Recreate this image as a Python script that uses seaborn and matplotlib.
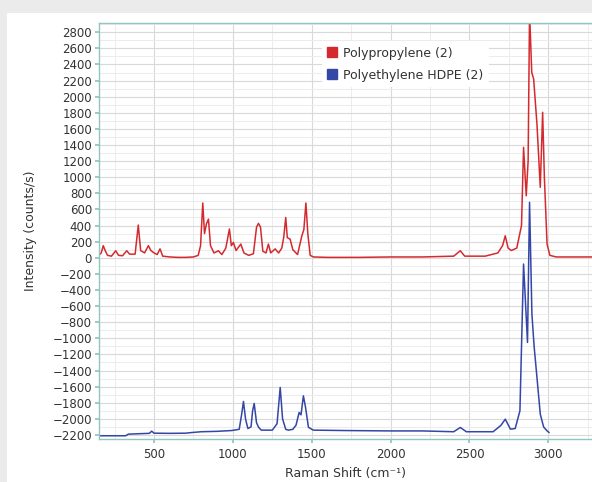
import numpy as np
import pandas as pd
import matplotlib
matplotlib.use("Agg")
import matplotlib.pyplot as plt
from matplotlib.lines import Line2D
from matplotlib.patches import Rectangle
from matplotlib.ticker import MultipleLocator
import seaborn as sns

# ---- data ----
pp_shift = [150, 165, 178, 190, 205, 230, 257, 275, 300, 327, 345, 380, 400, 415, 440, 464, 480, 500,
            520, 538, 555, 600, 650, 700, 750, 780, 795, 809, 820, 832, 845, 858, 880, 908, 930, 955,
            978, 990, 1003, 1020, 1050, 1070, 1100, 1130, 1150, 1162, 1175, 1190, 1210, 1225, 1240,
            1268, 1290, 1310, 1322, 1335, 1345, 1363, 1380, 1410, 1437, 1450, 1463, 1475, 1490, 1510,
            1600, 1800, 2000, 2200, 2400, 2442, 2470, 2600, 2680, 2710, 2727, 2745, 2765, 2800, 2830,
            2843, 2860, 2872, 2881, 2895, 2907, 2928, 2949, 2964, 2975, 2992, 3010, 3050, 3200, 3300]
pp_int = [30, 60, 150, 90, 30, 20, 87, 30, 25, 87, 45, 45, 406, 90, 60, 150, 90, 60,
          40, 110, 20, 10, 5, 5, 10, 30, 150, 680, 300, 420, 480, 150, 60, 87, 40, 120,
          357, 150, 190, 90, 170, 60, 30, 50, 380, 427, 380, 80, 60, 170, 60,
          110, 60, 120, 250, 500, 250, 230, 100, 40, 270, 350, 680, 300, 30, 10,
          5, 5, 10, 10, 20, 87, 20, 20, 60, 150, 273, 120, 90, 120, 400,
          1371, 770, 1200, 3050, 2300, 2220, 1660, 875, 1806, 1000, 170, 30, 10, 10, 10]

pe_shift = [150, 200, 320, 337, 400, 470, 485, 500, 600, 700, 739, 800, 900, 993, 1040, 1055, 1067,
            1080, 1095, 1115, 1125, 1135, 1150, 1163, 1180, 1250, 1280, 1300, 1315, 1335, 1352, 1380,
            1400, 1420, 1432, 1447, 1460, 1479, 1510, 1700, 2000, 2200, 2400, 2442, 2480, 2650, 2700,
            2727, 2760, 2790, 2820, 2843, 2868, 2881, 2896, 2910, 2928, 2949, 2970, 2992, 3005]
pe_int = [-2210, -2210, -2210, -2190, -2185, -2180, -2153, -2178, -2180, -2178, -2170, -2160, -2155,
          -2145, -2130, -1950, -1784, -2000, -2120, -2100, -1900, -1809, -2050, -2105, -2140, -2140,
          -2060, -1610, -2000, -2130, -2140, -2130, -2080, -1921, -1950, -1714, -1850, -2105, -2140,
          -2145, -2150, -2150, -2160, -2107, -2160, -2160, -2080, -2004, -2128, -2120, -1900, -78,
          -1051, 688, -700, -1100, -1486, -1941, -2100, -2149, -2170]

series_names = ["Polypropylene (2)", "Polyethylene HDPE (2)"]
series_colors = ["#d42a2e", "#3446a6"]
x_ticks = [500, 1000, 1500, 2000, 2500, 3000]
y_ticks = list(range(-2200, 2801, 200))

df = pd.concat([
    pd.DataFrame({"shift": pp_shift, "intensity": pp_int, "series": series_names[0]}),
    pd.DataFrame({"shift": pe_shift, "intensity": pe_int, "series": series_names[1]}),
], ignore_index=True)

sns.set_theme(style="white")
plt.rcParams["font.family"] = ["DejaVu Sans"]

W, H = 592, 482
fig = plt.figure(figsize=(W / 100, H / 100), dpi=100, facecolor="#ebebeb")
fig.patches.append(Rectangle((7 / W, 0), 1 - 7 / W, 1 - 13 / H, transform=fig.transFigure,
                             facecolor="white", edgecolor="none", zorder=-5))

left, right, top, bottom = 99, 592, 22.5, 438.5
ax = fig.add_axes([left / W, 1 - bottom / H, (right - left) / W, (bottom - top) / H])
ax.set_zorder(2)
ax.set_facecolor("white")

sns.lineplot(data=df, x="shift", y="intensity", hue="series", palette=series_colors,
             estimator=None, sort=False, linewidth=1.1, legend=False, ax=ax)

ax.set_xlim(151, 3277)
ax.set_ylim(-2244, 2921)
ax.set_xticks(x_ticks)
ax.set_yticks(y_ticks)
ax.xaxis.set_minor_locator(MultipleLocator(250))
ax.yaxis.set_minor_locator(MultipleLocator(100))
ax.grid(True, which="major", color="#d9d9d9", linewidth=0.8)
ax.grid(True, which="minor", color="#ececec", linewidth=0.7)
ax.set_axisbelow(True)

spine_col = "#8fc6bf"
for s in ["left", "top", "bottom"]:
    ax.spines[s].set_color(spine_col)
    ax.spines[s].set_linewidth(1.0)
ax.spines["right"].set_visible(False)
ax.tick_params(axis="both", which="major", length=3, color=spine_col, labelsize=8.5,
               labelcolor="#333333", pad=2, direction="out")
ax.tick_params(axis="x", which="major", pad=4)
ax.tick_params(axis="both", which="minor", length=2, color=spine_col, direction="out")
ax.tick_params(axis="y", left=True)
ax.tick_params(axis="x", bottom=True)

ax.set_xlabel("Raman Shift (cm\u207b\u00b9)", fontsize=9, color="#333333", labelpad=4)
ax.set_ylabel("Intensity (counts/s)", fontsize=9, color="#333333", labelpad=11)

handles = [Line2D([], [], marker="s", linestyle="none", markersize=7,
                  markerfacecolor=c, markeredgecolor=c) for c in series_colors]
leg = ax.legend(handles, series_names, loc="upper left", bbox_to_anchor=(0.452, 0.955),
                frameon=True, fontsize=9, handlelength=0.8, handletextpad=0.45,
                borderpad=0.45, labelspacing=0.7, borderaxespad=0)
leg.get_frame().set_facecolor("white")
leg.get_frame().set_edgecolor("none")
leg.get_frame().set_alpha(1)
for t in leg.get_texts():
    t.set_color("#333333")

fig.savefig("out.png", dpi=100, facecolor=fig.get_facecolor())
